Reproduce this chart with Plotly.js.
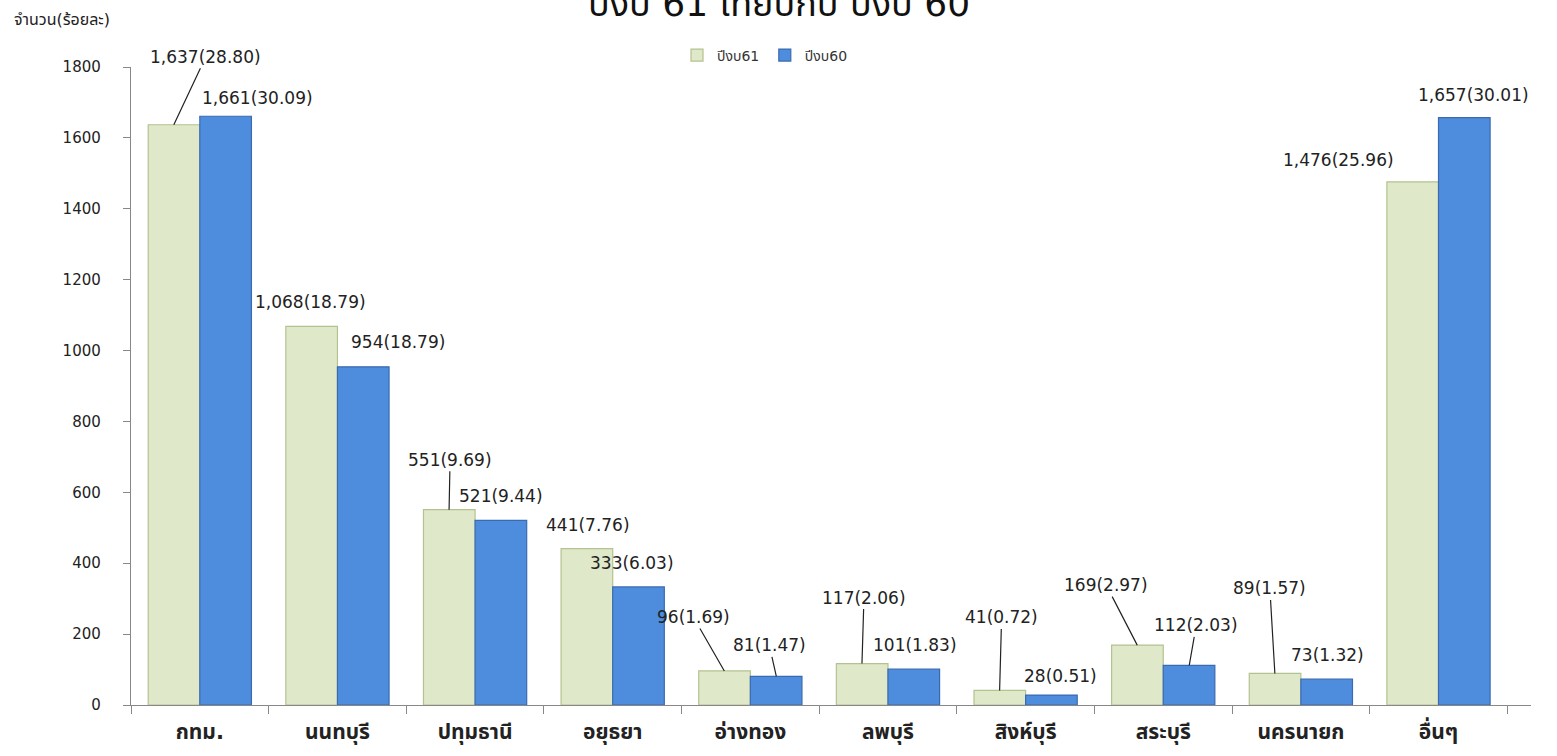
<!DOCTYPE html>
<html>
<head>
<meta charset="utf-8">
<script src="https://cdn.plot.ly/plotly-3.0.1.min.js"></script>
<style>html,body{margin:0;padding:0;background:#fff;}#chart{width:1557px;height:756px;}</style>
</head>
<body>
<div id="chart"></div>
<script>
// ---- data ----
var categories = ["กทม.", "นนทบุรี", "ปทุมธานี", "อยุธยา", "อ่างทอง", "ลพบุรี", "สิงห์บุรี", "สระบุรี", "นครนายก", "อื่นๆ"];
var values61 = [1637, 1068, 551, 441, 96, 117, 41, 169, 89, 1476];
var pct61 = ["28.80", "18.79", "9.69", "7.76", "1.69", "2.06", "0.72", "2.97", "1.57", "25.96"];
var values60 = [1661, 954, 521, 333, 81, 101, 28, 112, 73, 1657];
var pct60 = ["30.09", "18.79", "9.44", "6.03", "1.47", "1.83", "0.51", "2.03", "1.32", "30.01"];
var yTicks = [0, 200, 400, 600, 800, 1000, 1200, 1400, 1600, 1800];

// ---- label placement (pixel offsets of label from bar top, and leader visibility) ----
var off61 = [[32,-68,1],[-1,-24,0],[1,-50,1],[1,-24,0],[-31,-54,1],[2,-66,1],[2,-73,1],[-31,-60,1],[-5,-85,1],[-74,-22,0]];
var off60 = [[32,-18,0],[35,-25,0],[0,-24,0],[-7,-24,0],[-7,-31,1],[1,-24,0],[9,-19,0],[7,-40,1],[1,-24,0],[9,-23,0]];

var FONT = "Tahoma, 'DejaVu Sans', Verdana, 'Noto Sans Thai', sans-serif";
var green = "#dfe9c9", greenLine = "#b3c290";
var blue = "#4e8ddd", blueLine = "#3a6bb0";

function fmt(n){ return n.toLocaleString("en-US"); }

var traces = [
  {type:"bar", name:"ปีงบ61", x:categories, y:values61,
   marker:{color:green, line:{color:greenLine, width:1.2}}, hoverinfo:"skip"},
  {type:"bar", name:"ปีงบ60", x:categories, y:values60,
   marker:{color:blue, line:{color:blueLine, width:1.2}}, hoverinfo:"skip"}
];

var annotations = [];
var half = 26;
function addLabels(vals, pcts, offs, shift){
  for (var i=0;i<vals.length;i++){
    annotations.push({
      x:categories[i], y:vals[i], xref:"x", yref:"y", xshift:shift,
      text: fmt(vals[i]) + "(" + pcts[i] + ")",
      showarrow:true, arrowhead:0, arrowwidth:1.2,
      arrowcolor: offs[i][2] ? "#222" : "rgba(0,0,0,0)",
      ax:offs[i][0], ay:offs[i][1], standoff:0, startstandoff:0,
      font:{family:FONT, size:17, color:"#222"}
    });
  }
}
addLabels(values61, pct61, off61, -half);
addLabels(values60, pct60, off60, half);

annotations.push({
  xref:"paper", yref:"paper", x:-0.085, y:1.075, xanchor:"left", yanchor:"middle",
  text:"จำนวน(ร้อยละ)", showarrow:false, font:{family:FONT, size:16, color:"#222"}
});
annotations.push({
  xref:"paper", yref:"paper", x:0.463, y:1.1, xanchor:"center", yanchor:"middle",
  text:"ปีงบ 61 เทียบกับ ปีงบ 60", showarrow:false, font:{family:FONT, size:36, color:"#111"}
});

var layout = {
  width:1557, height:756,
  margin:{l:131, r:26, t:67, b:51},
  paper_bgcolor:"#fff", plot_bgcolor:"#fff",
  barmode:"group", bargap:0.25, bargroupgap:0,
  showlegend:true,
  legend:{orientation:"h", x:0.39, xanchor:"left", y:1.018, yanchor:"middle",
          font:{family:FONT, size:14, color:"#333"}, bgcolor:"rgba(0,0,0,0)", itemwidth:30, traceorder:"normal"},
  xaxis:{type:"category", showline:true, linecolor:"#888", linewidth:1.2,
         ticks:"outside", tickson:"boundaries", ticklen:8, tickcolor:"#888", ticklabelstandoff:8,
         tickfont:{family:FONT, size:21, color:"#222", weight:"bold"}, showgrid:false, zeroline:false},
  yaxis:{range:[0,1800], tickvals:yTicks, ticktext:yTicks.map(String), showline:true, linecolor:"#888", linewidth:1.2,
         ticks:"outside", ticklen:7, tickcolor:"#888", showgrid:false, zeroline:false,
         tickfont:{family:FONT, size:15, color:"#222"}, ticklabelstandoff:19},
  annotations:annotations
};

Plotly.newPlot("chart", traces, layout, {displayModeBar:false, staticPlot:true});
</script>
</body>
</html>
